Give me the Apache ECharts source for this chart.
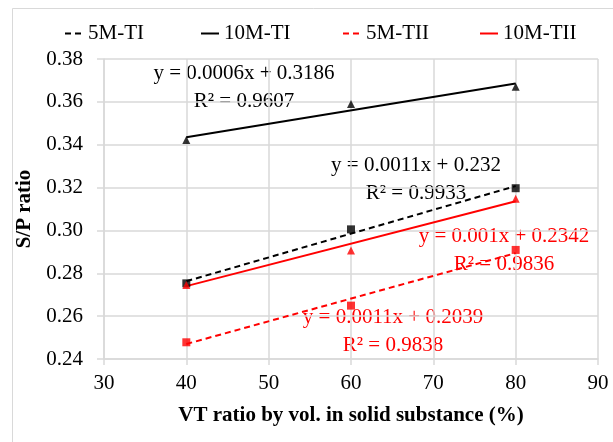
<!DOCTYPE html>
<html>
<head>
<meta charset="utf-8">
<script src="https://cdn.jsdelivr.net/npm/echarts@6/dist/echarts.min.js"></script>
<style>
	html, body { margin: 0; padding: 0; background: #fff; }
	#chart { width: 613px; height: 442px; }
</style>
</head>
<body>
<div id="chart"></div>
<script>
// measured points
var vtRatio = [40, 60, 80];
var sp5MTI = [0.2753, 0.3005, 0.3197];
var sp10MTI = [0.3422, 0.3590, 0.3671];
var sp5MTII = [0.2478, 0.2649, 0.2909];
var sp10MTII = [0.2745, 0.2906, 0.3148];

// trendline ends
var trendX = [40, 80];
var trend5MTI = [0.2763, 0.3207];
var trend10MTI = [0.3435, 0.3686];
var trend5MTII = [0.2470, 0.2894];
var trend10MTII = [0.2740, 0.3136];

var seriesNames = ["5M-TI", "10M-TI", "5M-TII", "10M-TII"];
var equations = [
	"y = 0.0011x + 0.232\nR² = 0.9933",
	"y = 0.0006x + 0.3186\nR² = 0.9607",
	"y = 0.0011x + 0.2039\nR² = 0.9838",
	"y = 0.001x + 0.2342\nR² = 0.9836"
];
var xTicks = [30, 40, 50, 60, 70, 80, 90];
var yTicks = [0.24, 0.26, 0.28, 0.30, 0.32, 0.34, 0.36, 0.38];

var FONT = "Liberation Serif";
var GRID = "#d9d9d9";

function zip(xs, ys) {
	return xs.map(function(x, i) {
		return [x, ys[i]];
	});
}

function pointSeries(name, ys, symbol, color, size) {
	return {
		name: name + " pts",
		type: "scatter",
		data: zip(vtRatio, ys),
		symbol: symbol,
		symbolSize: size,
		itemStyle: { color: color },
		z: 3
	};
}

function trendSeries(name, ys, color, dashed) {
	return {
		name: name,
		type: "line",
		data: zip(trendX, ys),
		showSymbol: false,
		symbol: "none",
		lineStyle: { color: color, width: 2, type: dashed ? [6, 4] : "solid" },
		itemStyle: { color: color },
		z: 2
	};
}

function legendItem(name, left) {
	return {
		data: [name],
		left: left,
		top: 18,
		itemWidth: 18,
		itemHeight: 12,
		// hide the symbol in the legend icon, keep only the line
		itemStyle: { color: "rgba(0,0,0,0)", borderWidth: 0 },
		textStyle: { fontFamily: FONT, fontSize: 21, color: "#000" },
		selectedMode: false
	};
}

function eqText(txt, x, y, color) {
	return {
		type: "text",
		x: x,
		y: y,
		style: {
			text: txt,
			fill: color,
			font: "21px '" + FONT + "'",
			align: "center",
			verticalAlign: "middle",
			lineHeight: 28
		}
	};
}

var chart = echarts.init(document.getElementById("chart"));
var option = {
	animation: false,
	backgroundColor: "#fff",
	legend: [
		legendItem(seriesNames[0], 59),
		legendItem(seriesNames[1], 195),
		legendItem(seriesNames[2], 337),
		legendItem(seriesNames[3], 474)
	],
	grid: { left: 104, right: 15, top: 59, bottom: 83 },
	xAxis: {
		type: "value",
		min: xTicks[0],
		max: xTicks[xTicks.length - 1],
		interval: 10,
		name: "VT ratio by vol. in solid substance (%)",
		nameLocation: "middle",
		nameGap: 46,
		nameTextStyle: { fontFamily: FONT, fontSize: 21, fontWeight: "bold", color: "#000" },
		axisLine: { lineStyle: { color: GRID, width: 1.5 } },
		axisTick: { show: true, length: 6, lineStyle: { color: GRID, width: 1.5 } },
		axisLabel: { margin: 14, fontFamily: FONT, fontSize: 21, color: "#000" },
		splitLine: { show: true, lineStyle: { color: GRID, width: 1.5 } }
	},
	yAxis: {
		type: "value",
		min: yTicks[0],
		max: yTicks[yTicks.length - 1],
		interval: 0.02,
		name: "S/P ratio",
		nameLocation: "middle",
		nameRotate: 90,
		nameGap: 52,
		nameTextStyle: { fontFamily: FONT, fontSize: 21, fontWeight: "bold", color: "#000" },
		axisLine: { show: true, lineStyle: { color: GRID, width: 1.5 } },
		axisTick: { show: true, length: 7, lineStyle: { color: GRID, width: 1.5 } },
		axisLabel: {
			margin: 21,
			fontFamily: FONT,
			fontSize: 21,
			color: "#000",
			formatter: function(v) { return v.toFixed(2); }
		},
		splitLine: { show: true, lineStyle: { color: GRID, width: 1.5 } }
	},
	graphic: [
		{
			type: "rect",
			shape: { x: 12.5, y: 8.5, width: 700, height: 500 },
			style: { fill: null, stroke: GRID, lineWidth: 1 },
			silent: true
		},
		eqText(equations[1], 244, 87, "#000"),
		eqText(equations[0], 416, 179, "#000"),
		eqText(equations[3], 504, 250, "#ff0000"),
		eqText(equations[2], 393, 331, "#ff0000")
	],
	series: [
		trendSeries(seriesNames[0], trend5MTI, "#000", true),
		trendSeries(seriesNames[1], trend10MTI, "#000", false),
		trendSeries(seriesNames[2], trend5MTII, "#ff0000", true),
		trendSeries(seriesNames[3], trend10MTII, "#ff0000", false),
		pointSeries(seriesNames[0], sp5MTI, "rect", "#000", 8),
		pointSeries(seriesNames[1], sp10MTI, "triangle", "#000", 8),
		pointSeries(seriesNames[2], sp5MTII, "rect", "#ff0000", 8),
		pointSeries(seriesNames[3], sp10MTII, "triangle", "#ff0000", 8)
	]
};
chart.setOption(option);
</script>
</body>
</html>
